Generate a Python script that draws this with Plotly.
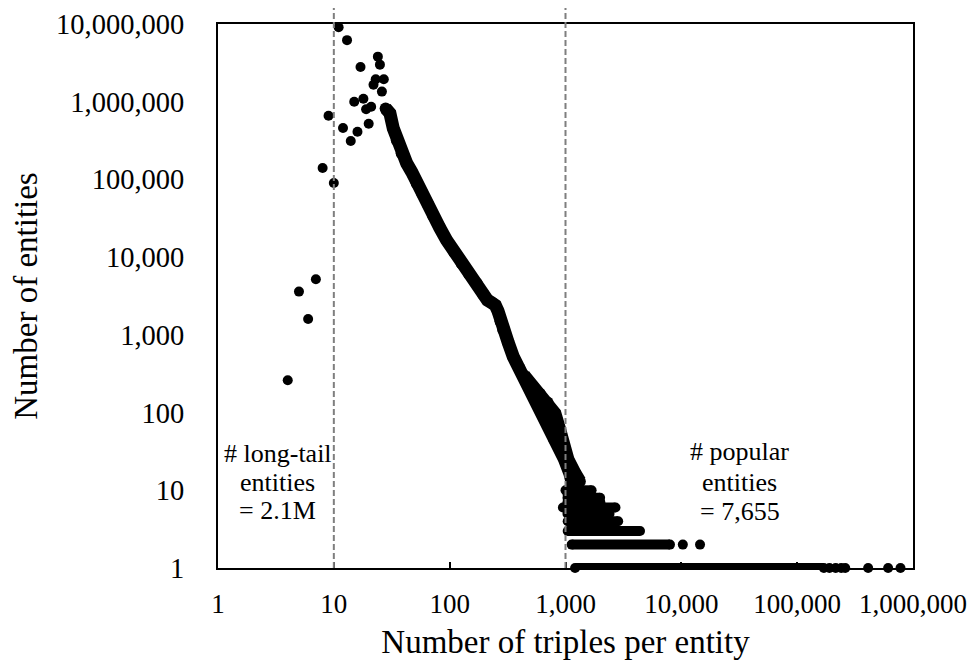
import plotly.graph_objects as go

# ---------------- data ----------------
# isolated points at low triple counts
low_x = [4, 5, 6, 7, 8, 9, 10, 11, 12, 13, 14, 15, 16, 17, 18, 19, 20, 21, 22, 23, 24, 25, 26, 27]
low_y = [260, 3600, 1600, 5200, 140000, 660000, 90000, 9100000, 460000, 6200000, 313000, 1000000,
         410000, 2800000, 1090000, 800000, 520000, 860000, 1650000, 1950000, 3800000, 3000000,
         1350000, 1950000]

# main dense curve (left edge of the thick band)
curve_x = [28, 30.5, 32.6, 35, 38.5, 42.6, 47, 52, 58, 65, 72, 82, 94, 110, 127, 148, 171, 195,
           212, 230, 248, 262, 275, 290, 320, 354, 400, 447, 520, 560, 630, 690, 735, 800, 890,
           980, 1090, 1150]
curve_y = [820000, 710000, 455000, 320000, 217000, 161000, 125000, 89000, 66000, 48000, 34000,
           24000, 16600, 11500, 8300, 6000, 4600, 3300, 2800, 2600, 2400, 2000, 1500, 1160, 800,
           524, 370, 263, 170, 145, 98, 80, 61, 45, 36, 25, 16.5, 12]

# right edge of the scattered band near the bottom of the curve
spread_x = [440, 520, 600, 700, 810, 890, 950, 1050, 1210, 1330]
spread_y = [300, 220, 175, 135, 98, 61, 36, 25, 16.5, 13]

# dense horizontal runs of small counts (entities with > 1,000 triples)
run_y = [10, 9, 8, 7, 6, 5, 4, 3, 2, 1]
run_x_start = [1000, 1040, 1040, 1040, 950, 1040, 1045, 1045, 1130, 1210]
run_x_end = [1680, 1650, 1990, 2000, 2700, 2400, 2850, 4400, 7980, 170000]

# isolated points in the far tail
tail_x = [10300, 14500, 190000, 215000, 240000, 260000, 410000, 610000, 780000]
tail_y = [2, 2, 1, 1, 1, 1, 1, 1, 1]

# threshold lines
threshold_x = [10, 1000]

# tick labels
x_tickvals = [1, 10, 100, 1000, 10000, 100000, 1000000]
x_ticktext = ["1", "10", "100", "1,000", "10,000", "100,000", "1,000,000"]
y_tickvals = [1, 10, 100, 1000, 10000, 100000, 1000000, 10000000]
y_ticktext = ["1", "10", "100", "1,000", "10,000", "100,000", "1,000,000", "10,000,000"]

# ---------------- figure ----------------
FONT = "Liberation Serif, Times New Roman, serif"
DOT = 10
BAND = 13

fig = go.Figure()

fig.add_trace(go.Scatter(x=curve_x, y=curve_y, mode="lines+markers",
                         line=dict(color="black", width=BAND),
                         marker=dict(color="black", size=DOT + 2),
                         cliponaxis=False, showlegend=False, hoverinfo="x+y"))
fig.add_trace(go.Scatter(x=spread_x, y=spread_y, mode="lines+markers",
                         line=dict(color="black", width=BAND),
                         marker=dict(color="black", size=DOT + 2),
                         cliponaxis=False, showlegend=False, hoverinfo="x+y"))

rx, ry = [], []
for ys, xs, xe in zip(run_y, run_x_start, run_x_end):
    rx += [xs, xe, None]
    ry += [ys, ys, None]
fig.add_trace(go.Scatter(x=rx, y=ry, mode="lines+markers", connectgaps=False,
                         line=dict(color="black", width=DOT),
                         marker=dict(color="black", size=DOT),
                         cliponaxis=False, showlegend=False, hoverinfo="x+y"))

fig.add_trace(go.Scatter(x=low_x + tail_x, y=low_y + tail_y, mode="markers",
                         marker=dict(color="black", size=DOT),
                         cliponaxis=False, showlegend=False, hoverinfo="x+y"))

for tx in threshold_x:
    fig.add_shape(type="line", xref="x", yref="paper", x0=tx, x1=tx, y0=0, y1=1.03,
                  line=dict(color="#7f7f7f", width=2, dash="6px,3px"), layer="above")

ann_font = dict(family=FONT, size=26, color="black")
left_lines = ["# long-tail", "entities", "= 2.1M"]
right_lines = ["# popular", "entities", "= 7,655"]
left_ys = [0.211, 0.158, 0.106]
right_ys = [0.215, 0.158, 0.103]
for txt, yy in zip(left_lines, left_ys):
    fig.add_annotation(text=txt, xref="paper", yref="paper", x=0.086, y=yy,
                       xanchor="center", yanchor="middle", showarrow=False, font=ann_font)
for txt, yy in zip(right_lines, right_ys):
    fig.add_annotation(text=txt, xref="paper", yref="paper", x=0.751, y=yy,
                       xanchor="center", yanchor="middle", showarrow=False, font=ann_font)

# the page body adds an 8px offset, so the figure is 8px smaller than the window
fig.update_layout(
    width=967, height=654,
    margin=dict(l=210, r=62, t=16, b=94, autoexpand=False),
    paper_bgcolor="white", plot_bgcolor="white",
    font=dict(family=FONT, color="black"),
    xaxis=dict(type="log", range=[0, 6], tickvals=x_tickvals, ticktext=x_ticktext,
               showgrid=False, zeroline=False, showline=True, mirror=True,
               linecolor="black", linewidth=2, ticks="inside", ticklen=6,
               tickcolor="black", tickwidth=1.5,
               tickfont=dict(family=FONT, size=27, color="black"),
               ticklabelstandoff=11,
               title=dict(text="Number of triples per entity",
                          font=dict(family=FONT, size=33, color="black"), standoff=11),
               automargin=False),
    yaxis=dict(type="log", range=[0, 7], tickvals=y_tickvals, ticktext=y_ticktext,
               showgrid=False, zeroline=False, showline=True, mirror=True,
               linecolor="black", linewidth=2, ticks="",
               tickfont=dict(family=FONT, size=28.5, color="black"),
               ticklabelstandoff=26,
               title=dict(text="Number of entities",
                          font=dict(family=FONT, size=33, color="black"), standoff=10),
               automargin=False),
)

fig.write_html("out.html")
